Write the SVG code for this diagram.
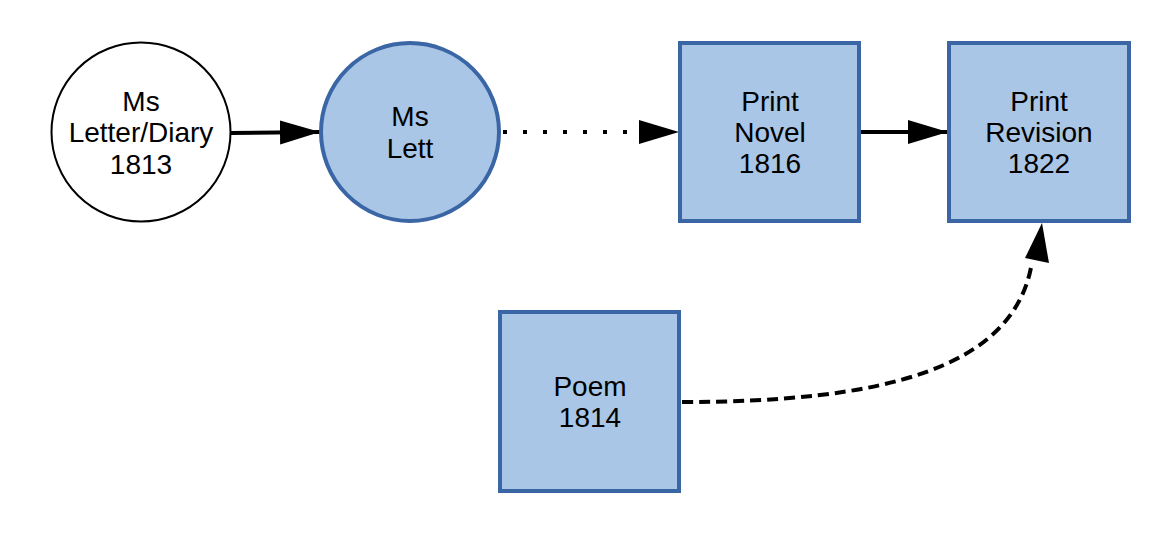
<svg xmlns="http://www.w3.org/2000/svg" width="1176" height="536" viewBox="0 0 1176 536">
<style>
.t{font-family:"Liberation Sans",Arial,sans-serif;font-size:28px;fill:#000;text-anchor:middle}
.blue{fill:#a9c6e6;stroke:#3a66a6;stroke-width:4}
.c{fill:none;stroke:#000;stroke-width:4}
</style>
<defs>
<marker id="ah" markerUnits="userSpaceOnUse" markerWidth="42" markerHeight="26" refX="40" refY="13" orient="auto" viewBox="0 0 42 26">
<path d="M0,1 L40,13 L0,25 Z" fill="#000"/>
</marker>
</defs>
<rect width="1176" height="536" fill="#fff"/>
<g id="connectors">
<path class="c" d="M231,133 L320,132" marker-end="url(#ah)"/>
<path class="c" d="M503,132 L679,132" stroke-dasharray="4,16" marker-end="url(#ah)"/>
<path class="c" d="M860,132 L948,132" marker-end="url(#ah)"/>
<path class="c" d="M682,402 C880,402 1015,370 1032,262" stroke-dasharray="11,6"/>
<path d="M1042,223 L1025,258 L1049,263 Z" fill="#000"/>
</g>
<g id="n1">
<circle cx="141" cy="132" r="89.5" fill="#fff" stroke="#000" stroke-width="2"/>
<text class="t" x="141" y="111">Ms</text>
<text class="t" x="141" y="142">Letter/Diary</text>
<text class="t" x="141" y="174">1813</text>
</g>
<g id="n2">
<circle class="blue" cx="410" cy="132" r="89"/>
<text class="t" x="410" y="126">Ms</text>
<text class="t" x="410" y="158">Lett</text>
</g>
<g id="n3">
<rect class="blue" x="680" y="43" width="179" height="178"/>
<text class="t" x="770" y="111">Print</text>
<text class="t" x="770" y="142">Novel</text>
<text class="t" x="770" y="173">1816</text>
</g>
<g id="n4">
<rect class="blue" x="949" y="43" width="180" height="178"/>
<text class="t" x="1039" y="111">Print</text>
<text class="t" x="1039" y="142">Revision</text>
<text class="t" x="1039" y="173">1822</text>
</g>
<g id="n5">
<rect class="blue" x="500" y="312" width="179" height="179"/>
<text class="t" x="590" y="396">Poem</text>
<text class="t" x="590" y="427">1814</text>
</g>
</svg>
